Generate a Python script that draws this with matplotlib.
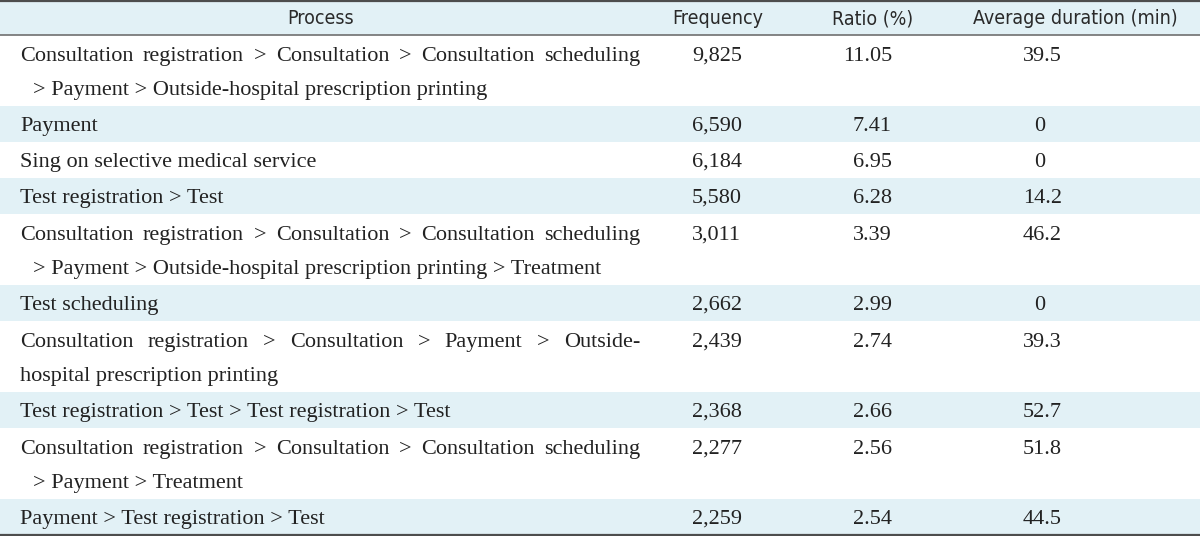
import matplotlib.pyplot as plt

# Dades de la taula
headers = ["Process", "Frequency", "Ratio (%)", "Average duration (min)"]
processes = [
    "Consultation registration > Consultation > Consultation scheduling\n > Payment > Outside-hospital prescription printing",
    "Payment",
    "Sing on selective medical service",
    "Test registration > Test",
    "Consultation registration > Consultation > Consultation scheduling\n > Payment > Outside-hospital prescription printing > Treatment",
    "Test scheduling",
    "Consultation registration > Consultation > Payment > Outside-\nhospital prescription printing",
    "Test registration > Test > Test registration > Test",
    "Consultation registration > Consultation > Consultation scheduling\n > Payment > Treatment",
    "Payment > Test registration > Test",
]
frequency = ["9,825", "6,590", "6,184", "5,580", "3,011", "2,662", "2,439", "2,368", "2,277", "2,259"]
ratio = ["11.05", "7.41", "6.95", "6.28", "3.39", "2.99", "2.74", "2.66", "2.56", "2.54"]
duration = ["39.5", "0", "0", "14.2", "46.2", "0", "39.3", "52.7", "51.8", "44.5"]

W, H = 1200, 536
band = "#e2f1f6"
body_font = dict(family="Liberation Serif", size=16, color="#222222")
head_font = dict(family="DejaVu Sans", stretch="condensed", size=14, color="#2a2a2a")

fig = plt.figure(figsize=(W / 100, H / 100), dpi=100)
ax = fig.add_axes([0, 0, 1, 1])
ax.set_xlim(0, W)
ax.set_ylim(H, 0)
ax.axis("off")

# Capçalera
ax.axhspan(1, 35, color=band, lw=0)
head_x = [321, 718, 873, 1075]
for x, h in zip(head_x, headers):
    ax.text(x, 19, h, ha="center", va="center", **head_font)

renderer = fig.canvas.get_renderer()
left, right = 20, 640


def justify(line, y):
    # Distribuir les paraules per ocupar tota l'amplada
    words = line.split(" ")
    arts = [ax.text(0, y, w, ha="left", va="baseline", **body_font) for w in words]
    widths = [a.get_window_extent(renderer).width for a in arts]
    gap = (right - left - sum(widths)) / (len(words) - 1)
    x = left
    for a, w in zip(arts, widths):
        a.set_x(x)
        x += w + gap


top = 35
for i, p in enumerate(processes):
    lines = p.split("\n")
    h = 36 + 35 * (len(lines) - 1)
    if i % 2 == 1:
        ax.axhspan(top, top + h, color=band, lw=0)
    if len(lines) == 1:
        base = top + 25
        ax.text(left, base, lines[0], ha="left", va="baseline", **body_font)
    else:
        base = top + 26
        justify(lines[0], base)
        second = lines[1]
        indent = 13 if second.startswith(" ") else 0
        ax.text(left + indent, base + 34, second.strip(), ha="left", va="baseline", **body_font)
    ax.text(692, base, frequency[i], ha="left", va="baseline", **body_font)
    ax.text(892, base, ratio[i], ha="right", va="baseline", **body_font)
    if "." in duration[i]:
        ax.text(1062, base, duration[i], ha="right", va="baseline", **body_font)
    else:
        ax.text(1040, base, duration[i], ha="center", va="baseline", **body_font)
    top += h

# Línies horitzontals
ax.axhline(1, color="#4d4d4d", lw=1.6)
ax.axhline(35, color="#707070", lw=1.2)
ax.axhline(top, color="#4d4d4d", lw=1.6)

fig.savefig("out.png", dpi=100)
